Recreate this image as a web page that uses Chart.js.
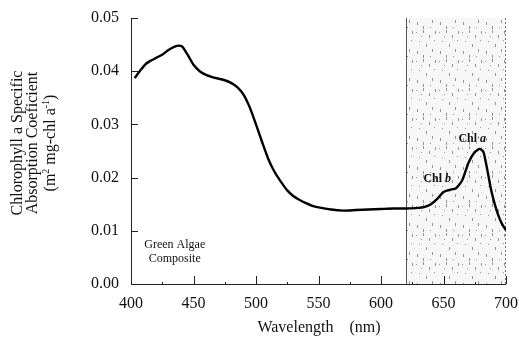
<!DOCTYPE html>
<html>
<head>
<meta charset="utf-8">
<script src="https://cdn.jsdelivr.net/npm/chart.js@4.4.1/dist/chart.umd.min.js"></script>
<style>
  html, body { margin: 0; padding: 0; background: #fff; }
  #chart { display: block; }
</style>
</head>
<body>
<canvas id="chart" width="519" height="337"></canvas>
<script>
// Data
const wavelengths = [403, 408, 412, 416, 420, 425, 430, 435, 438, 441, 445, 450, 455, 460, 465, 470, 475, 480, 485, 490,
    495, 500, 505, 510, 515, 520, 525, 530, 535, 540, 545, 550, 560, 570, 580, 590, 600, 610, 620, 630,
    635, 640, 645, 650, 655, 660, 665, 670, 675, 679, 682, 685, 688, 691, 694, 697, 700]
const absorption = [0.0387, 0.0403, 0.0414, 0.0420, 0.0425, 0.0431, 0.0440, 0.0446, 0.0448, 0.0446, 0.0432, 0.0412, 0.0400, 0.0393, 0.0389, 0.0386, 0.0383, 0.0378, 0.0370, 0.0356,
    0.0332, 0.0300, 0.0266, 0.0234, 0.0210, 0.0192, 0.0176, 0.0165, 0.0158, 0.0152, 0.0147, 0.0144, 0.0140, 0.0138, 0.0139, 0.0140, 0.0141, 0.0142, 0.0142, 0.0143,
    0.0145, 0.0150, 0.0160, 0.0173, 0.0177, 0.0180, 0.0195, 0.0228, 0.0248, 0.0254, 0.0248, 0.0215, 0.0178, 0.0150, 0.0128, 0.0112, 0.0101]
const xTicks = [400, 450, 500, 550, 600, 650, 700]
const yTicks = [0, 0.01, 0.02, 0.03, 0.04, 0.05]
const shadedRange = [620, 700]

const serif = "'Liberation Serif', 'DejaVu Serif', serif"

// stippled pattern for the shaded band (fixed dot layout)
function makeStipple(ctx) {
    const p = document.createElement('canvas')
    p.width = 23
    p.height = 29
    const pc = p.getContext('2d')
    pc.fillStyle = 'rgba(0,0,0,0.03)'
    pc.fillRect(0, 0, 23, 29)
    const dots = [[2, 3], [9, 1], [15, 6], [20, 11], [5, 12], [12, 15], [18, 20], [3, 22], [9, 26], [16, 27], [21, 2], [7, 7]]
    pc.fillStyle = 'rgba(0,0,0,0.4)'
    dots.forEach(d => pc.fillRect(d[0], d[1], 1, 1 + (d[0] % 3 === 0 ? 2 : 0)))
    return ctx.createPattern(p, 'repeat')
}

const decorations = {
    id: 'decorations',
    beforeDatasetsDraw(chart) {
        const { ctx, chartArea, scales } = chart
        const x0 = scales.x.getPixelForValue(shadedRange[0])
        const x1 = scales.x.getPixelForValue(shadedRange[1])
        ctx.save()
        ctx.fillStyle = makeStipple(ctx)
        ctx.fillRect(x0, chartArea.top, x1 - x0, chartArea.bottom - chartArea.top)
        ctx.strokeStyle = '#555'
        ctx.lineWidth = 1
        ctx.beginPath()
        ctx.moveTo(Math.round(x0) + 0.5, chartArea.top)
        ctx.lineTo(Math.round(x0) + 0.5, chartArea.bottom)
        ctx.stroke()
        ctx.setLineDash([2, 2])
        ctx.strokeStyle = '#777'
        ctx.beginPath()
        ctx.moveTo(Math.round(x1) - 0.5, chartArea.top)
        ctx.lineTo(Math.round(x1) - 0.5, chartArea.bottom)
        ctx.stroke()
        ctx.restore()
    },
    afterDraw(chart) {
        const { ctx, chartArea, scales } = chart
        const xs = scales.x, ys = scales.y
        ctx.save()
        // axes
        ctx.strokeStyle = '#222'
        ctx.lineWidth = 1
        ctx.beginPath()
        ctx.moveTo(chartArea.left + 0.5, chartArea.top)
        ctx.lineTo(chartArea.left + 0.5, chartArea.bottom + 0.5)
        ctx.lineTo(chartArea.right, chartArea.bottom + 0.5)
        ctx.stroke()
        // inward ticks
        ctx.beginPath()
        yTicks.forEach(v => {
            const y = Math.round(ys.getPixelForValue(v)) + 0.5
            ctx.moveTo(chartArea.left, y)
            ctx.lineTo(chartArea.left + 7, y)
        })
        xTicks.forEach(v => {
            const x = Math.round(xs.getPixelForValue(v)) + 0.5
            ctx.moveTo(x, chartArea.bottom)
            ctx.lineTo(x, chartArea.bottom - 8)
        })
        for (let v = 425; v < 700; v += 50) {
            const x = Math.round(xs.getPixelForValue(v)) + 0.5
            ctx.moveTo(x, chartArea.bottom)
            ctx.lineTo(x, chartArea.bottom - 2)
        }
        ctx.stroke()

        // y axis title, three rotated lines
        ctx.fillStyle = '#111'
        ctx.textAlign = 'center'
        ctx.textBaseline = 'middle'
        ctx.font = '16px ' + serif
        ctx.translate(0, 143)
        ctx.rotate(-Math.PI / 2)
        ctx.fillText('Chlorophyll a Specific', 0, 18)
        ctx.fillText('Absorption Coeficient', 0, 33)
        // third line with superscripts
        const parts = [['(m', 0], ['2', 1], [' mg-chl a', 0], ['-1', 1], [')', 0]]
        let total = 0
        parts.forEach(p => {
            ctx.font = (p[1] ? '10px ' : '16px ') + serif
            total += ctx.measureText(p[0]).width
        })
        let px = -total / 2
        ctx.textAlign = 'left'
        parts.forEach(p => {
            ctx.font = (p[1] ? '10px ' : '16px ') + serif
            ctx.fillText(p[0], px, p[1] ? 46 : 51)
            px += ctx.measureText(p[0]).width
        })
        ctx.restore()

        // x axis title
        ctx.save()
        ctx.fillStyle = '#111'
        ctx.font = '16px ' + serif
        ctx.textAlign = 'center'
        ctx.textBaseline = 'alphabetic'
        ctx.fillText('Wavelength    (nm)', 319, 332)

        // in-plot labels
        ctx.font = '12px ' + serif
        ctx.fillText('Green Algae', xs.getPixelForValue(435), ys.getPixelForValue(0.0068))
        ctx.fillText('Composite', xs.getPixelForValue(435), ys.getPixelForValue(0.0042))
        const lab = (txt, ital, x, y) => {
            ctx.font = 'bold 12px ' + serif
            const w1 = ctx.measureText(txt + ' ').width
            ctx.font = 'italic bold 12px ' + serif
            const w2 = ctx.measureText(ital).width
            let sx = x - (w1 + w2) / 2
            ctx.textAlign = 'left'
            ctx.font = 'bold 12px ' + serif
            ctx.fillText(txt + ' ', sx, y)
            ctx.font = 'italic bold 12px ' + serif
            ctx.fillText(ital, sx + w1, y)
        }
        lab('Chl', 'b', xs.getPixelForValue(645), ys.getPixelForValue(0.0192))
        lab('Chl', 'a', xs.getPixelForValue(673), ys.getPixelForValue(0.0267))
        ctx.restore()
    }
}

const ctx = document.getElementById('chart')
new Chart(ctx, {
    type: 'line',
    data: {
        datasets: [{
            data: wavelengths.map((w, i) => ({ x: w, y: absorption[i] })),
            borderColor: '#000',
            borderWidth: 2.4,
            pointRadius: 0,
            tension: 0.2,
            fill: false
        }]
    },
    options: {
        responsive: false,
        animation: false,
        layout: { padding: { top: 18, right: 13, left: 0, bottom: 0 } },
        plugins: { legend: { display: false }, tooltip: { enabled: false } },
        scales: {
            x: {
                type: 'linear',
                min: 400,
                max: 700,
                afterBuildTicks: s => { s.ticks = xTicks.map(v => ({ value: v })) },
                afterFit: s => { s.height = 53; s.paddingLeft = 0; s.paddingRight = 0 },
                grid: { display: false, drawTicks: false },
                border: { display: false },
                ticks: {
                    color: '#111',
                    padding: 10,
                    font: { family: serif, size: 16 }
                }
            },
            y: {
                min: 0,
                max: 0.05,
                afterBuildTicks: s => { s.ticks = yTicks.map(v => ({ value: v })) },
                afterFit: s => { s.width = 131; s.paddingTop = 0; s.paddingBottom = 0 },
                grid: { display: false, drawTicks: false },
                border: { display: false },
                ticks: {
                    color: '#111',
                    padding: 12,
                    font: { family: serif, size: 16 },
                    callback: v => v.toFixed(2)
                }
            }
        }
    },
    plugins: [decorations]
})
</script>
</body>
</html>
